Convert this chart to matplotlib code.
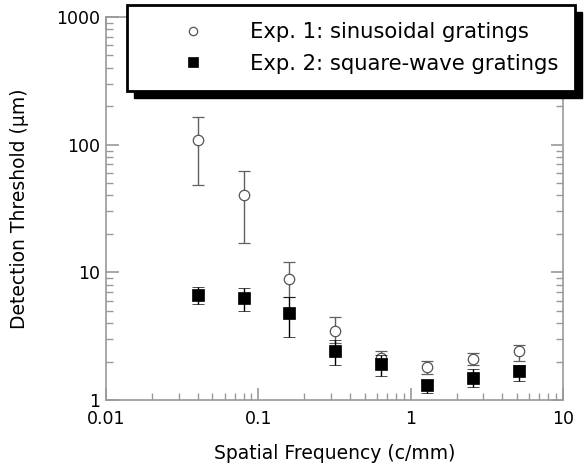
import matplotlib
matplotlib.use("Agg")
import matplotlib.pyplot as plt
from matplotlib.patches import Rectangle
from matplotlib.lines import Line2D
import numpy as np

plt.rcParams['font.family'] = ['DejaVu Sans']

freq = [0.04, 0.08, 0.16, 0.32, 0.64, 1.28, 2.56, 5.12]
sin_thr = [108, 40, 8.9, 3.5, 2.12, 1.82, 2.1, 2.42]
sin_lo = [48, 17, 6.4, 2.8, 1.9, 1.6, 1.88, 2.03]
sin_hi = [165, 62, 12, 4.5, 2.4, 2.03, 2.35, 2.7]
sq_thr = [6.7, 6.3, 4.8, 2.4, 1.9, 1.3, 1.5, 1.68]
sq_lo = [5.6, 5.0, 3.1, 1.88, 1.55, 1.14, 1.27, 1.42]
sq_hi = [7.7, 7.6, 6.4, 2.95, 2.25, 1.43, 1.74, 1.88]
labels = ["Exp. 1: sinusoidal gratings", "Exp. 2: square-wave gratings"]

W, H = 588, 475
fig = plt.figure(figsize=(W/100, H/100), dpi=100)
ax = fig.add_axes([106/W, 1-400/H, (563-106)/W, (400-17)/H])
ax.set_xscale('log')
ax.set_yscale('log')
ax.set_xlim(0.01, 10)
ax.set_ylim(1, 1000)

s = np.array(sin_thr)
e1 = [s - np.array(sin_lo), np.array(sin_hi) - s]
q = np.array(sq_thr)
e2 = [q - np.array(sq_lo), np.array(sq_hi) - q]

ax.errorbar(freq, sin_thr, yerr=e1, fmt='o', ms=7.5, mfc='white', mec='#555555',
            mew=0.9, ecolor='#606060', elinewidth=1, capsize=4.5, capthick=1,
            zorder=3)
ax.errorbar(freq, sq_thr, yerr=e2, fmt='s', ms=8, mfc='black', mec='black',
            mew=0.5, ecolor='black', elinewidth=1, capsize=4.5, capthick=1,
            zorder=4)

gray = '#999999'
for sp in ax.spines.values():
    sp.set_color(gray)
    sp.set_linewidth(1.2)
ax.tick_params(which='both', direction='in', top=True, right=True, color=gray)
ax.tick_params(which='major', length=9, width=1.2, labelsize=12.5, pad=4)
ax.tick_params(which='minor', length=5, width=1)
ax.tick_params(axis='x', which='major', pad=7)
ax.set_xticks([0.01, 0.1, 1, 10])
ax.set_xticklabels(['0.01', '0.1', '1', '10'])
ax.set_yticks([1, 10, 100, 1000])
ax.set_yticklabels(['1', '10', '100', '1000'])

ax.set_xlabel('Spatial Frequency (c/mm)', fontsize=13.5, labelpad=12)
ax.set_ylabel('Detection Threshold (\u03bcm)', fontsize=13.5, labelpad=20)

fs = 15.2
handles = [
    Line2D([], [], ls='none', marker='o', ms=6, mfc='white', mec='#555555', mew=0.9),
    Line2D([], [], ls='none', marker='s', ms=7.5, mfc='black', mec='black', mew=0.5),
]
leg = fig.legend(handles, labels, loc='upper left',
                 bbox_to_anchor=(127/W, 1-90/H, (575-127)/W, 85/H),
                 bbox_transform=fig.transFigure, mode='expand',
                 fontsize=fs, frameon=True, fancybox=False, borderpad=0.81,
                 handlelength=4.64, handletextpad=0.38, labelspacing=0.54,
                 borderaxespad=0, numpoints=1)
fr = leg.get_frame()
fr.set_edgecolor('black')
fr.set_linewidth(2)
fr.set_alpha(1)
leg.set_zorder(10)

fig.canvas.draw()
bb = leg.get_window_extent()
off = 7
sh = Rectangle((bb.x0 + off, bb.y0 - off), bb.width, bb.height,
               transform=None, facecolor='black', edgecolor='black', zorder=9)
fig.add_artist(sh)

fig.savefig('out.png', dpi=100)
